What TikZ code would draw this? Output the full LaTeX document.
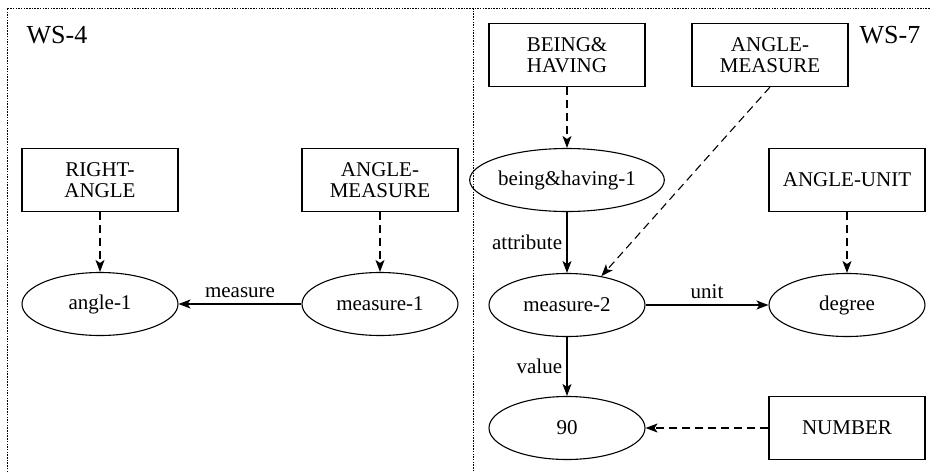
\documentclass[tikz,border=0pt]{standalone}
\usepackage{fontspec}
\setmainfont{Liberation Serif}
\usetikzlibrary{arrows.meta,shapes.geometric}
\begin{document}
\begin{tikzpicture}[x=1pt,y=-1pt,
  every node/.style={font=\fontsize{21}{21}\selectfont},
  conc/.style={draw, line width=1.1pt, minimum width=156pt, minimum height=63pt, inner sep=0pt, align=center},
  inst/.style={ellipse, draw, line width=1.1pt, minimum width=156pt, minimum height=63pt, inner sep=0pt},
  isa/.style={draw, line width=1.1pt, dash pattern=on 8pt off 5pt, -{Stealth[length=12pt,width=9pt,inset=3pt]}},
  rel/.style={draw, line width=1.1pt, -{Stealth[length=12pt,width=9pt,inset=3pt]}},
  frame/.style={draw, line width=1pt, dash pattern=on 1.5pt off 1.2pt},
  ws/.style={font=\fontsize{26}{26}\selectfont}]
\useasboundingbox (0,0) rectangle (930,472);
% frames
\coordinate (tl) at (7,8);
\coordinate (tr) at (930,8);
\coordinate (bl) at (7,472);
\coordinate (dt) at (473,8);
\coordinate (db) at (473,472);
\draw[frame] (bl) -- (tl) -- (tr);
\draw[frame] (dt) -- (db);
\node[ws] (ws4) at (57,35) {WS-4};
\node[ws] (ws7) at (890,35) {WS-7};
% left
\node[conc] (ra) at (100,180) {RIGHT-\\ANGLE};
\node[conc] (am1) at (380,180) {ANGLE-\\MEASURE};
\node[inst] (a1) at (100,304) {angle-1};
\node[inst] (m1) at (380,304) {measure-1};
\draw[isa] (ra) -- (a1);
\draw[isa] (am1) -- (m1);
\draw[rel] (m1) -- node[above=2pt] {measure} (a1);
% right
\node[conc] (bh) at (567,55) {BEING\&\\HAVING};
\node[conc] (am2) at (770,55) {ANGLE-\\MEASURE};
\node[inst] (bh1) at (567,180) {being\&having-1};
\node[conc] (au) at (847,180) {ANGLE-UNIT};
\node[inst] (m2) at (567,305) {measure-2};
\node[inst] (deg) at (847,305) {degree};
\node[inst] (n90) at (567,428) {90};
\node[conc] (num) at (847,428) {NUMBER};
\draw[isa] (bh) -- (bh1);
\draw[isa] (am2.south) -- (m2.40);
\draw[isa] (au) -- (deg);
\draw[isa] (num) -- (n90);
\draw[rel] (bh1) -- node[left=1pt] {attribute} (m2);
\draw[rel] (m2) -- node[above=2pt] {unit} (deg);
\draw[rel] (m2) -- node[left=1pt] {value} (n90);
\end{tikzpicture}
\end{document}
